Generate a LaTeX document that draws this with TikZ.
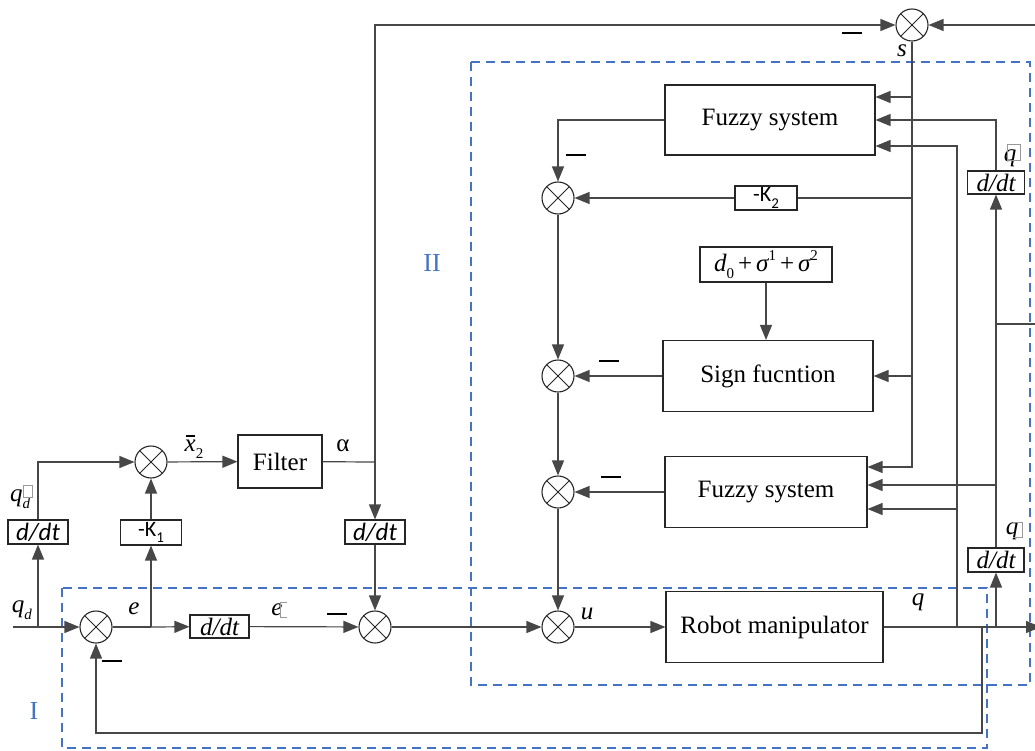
\documentclass[tikz,border=0pt]{standalone}
\usepackage{fontspec}
\setmainfont{Liberation Serif}
\newfontfamily\calib{Carlito}
\usetikzlibrary{arrows.meta}
\definecolor{zoneblue}{HTML}{4472C4}
\newcommand\lo[1]{\raisebox{-0.28em}{\fontsize{15}{15}\selectfont #1}}
\newcommand\hi[1]{\raisebox{0.42em}{\fontsize{15}{15}\selectfont #1}}
\newcommand\minusbar{\rule{20pt}{2.6pt}}
\begin{document}
\begin{tikzpicture}[x=1pt,y=-1pt,
  every node/.style={font=\fontsize{25}{30}\selectfont},
  ln/.style={line width=1.2pt,draw=black!72},
  arr/.style={ln,-{Triangle[length=15pt,width=12pt]}},
  blk/.style={draw=black!85,line width=1.1pt,rectangle,inner sep=0pt},
  sumc/.style={circle,draw=black!85,line width=1.1pt,minimum size=32pt,inner sep=0pt,
    path picture={\draw[black!85,line width=0.9pt] (path picture bounding box.center)
      +(45:16) -- +(225:16) +(135:16) -- +(315:16);}},
  zone/.style={draw=zoneblue,line width=2pt,dash pattern=on 9pt off 6pt},
  zlabel/.style={text=zoneblue,font=\fontsize{26}{30}\selectfont},
  gbox/.style={draw=black!40,line width=0.6pt},
  sig/.style={inner sep=0pt},
  sansdd/.style={font=\fontsize{25}{30}\selectfont\calib\itshape},
  serifdd/.style={font=\fontsize{25}{30}\selectfont\itshape}]
\useasboundingbox (0,0) rectangle (1035,751);

% dashed subsystem frames
\draw[zone] (62,588) rectangle (987,748);
\draw[zone] (471,62) rectangle (1030,685);
\node[zlabel] (lab1) at (34,711) {I};
\node[zlabel] (lab2) at (432,263) {II};

% blocks
\node[blk,minimum width=210pt,minimum height=70pt] (fz1) at (770,120) {Fuzzy system};
\node[blk,minimum width=62pt,minimum height=24pt,font=\fontsize{22}{26}\selectfont\calib] (K2) at (766,198) {-K\lo{2}};
\node[blk,minimum width=132pt,minimum height=35pt] (d0) at (766,264.5)
  {\itshape d\lo{\upshape 0}\hspace{4pt}\upshape+\hspace{4pt}\itshape σ\hi{\upshape 1}\hspace{4pt}\upshape+\hspace{4pt}\itshape σ\hi{\upshape 2}};
\node[blk,minimum width=210pt,minimum height=71pt] (sgn) at (768,376) {Sign fucntion};
\node[blk,minimum width=202pt,minimum height=71pt] (fz2) at (766,492) {Fuzzy system};
\node[blk,minimum width=217pt,minimum height=71pt] (robot) at (774.5,627) {Robot manipulator};
\node[blk,minimum width=84pt,minimum height=53pt] (filter) at (280,461.5) {Filter};
\node[blk,minimum width=60pt,minimum height=24pt,sansdd] (ddtA) at (38,532) {d/dt};
\node[blk,minimum width=61pt,minimum height=25pt,font=\fontsize{22}{26}\selectfont\calib] (K1) at (151,532.5) {-K\lo{1}};
\node[blk,minimum width=60pt,minimum height=24pt,sansdd] (ddtB) at (375,532) {d/dt};
\node[blk,minimum width=59pt,minimum height=23pt,serifdd] (ddtC) at (219.5,626.5) {d/dt};
\node[blk,minimum width=57pt,minimum height=23pt,serifdd] (ddtD) at (996,182.5) {d/dt};
\node[blk,minimum width=56pt,minimum height=24pt,serifdd] (ddtE) at (996,560) {d/dt};

% summing junctions
\node[sumc] (sTop) at (912,25) {};
\node[sumc] (c1) at (558,198) {};
\node[sumc] (c2) at (558,376) {};
\node[sumc] (c3) at (558,492) {};
\node[sumc] (c4) at (558,627) {};
\node[sumc] (cA) at (151,462) {};
\node[sumc] (cE) at (96,627) {};
\node[sumc] (cM) at (375,627) {};

% branch points
\coordinate (qin) at (13,627);
\coordinate (jqd) at (38,627);
\coordinate (je) at (151,627);
\coordinate (ja) at (375,462);
\coordinate (jq1) at (957,627);
\coordinate (jq2) at (982,627);
\coordinate (jq3) at (996,627);
\coordinate (qend) at (1041,627);
\coordinate (fbl) at (96,733);
\coordinate (redge) at (1035,25);
\coordinate (s1) at (912,97);
\coordinate (s2) at (912,198);
\coordinate (s3) at (912,376);
\coordinate (s4) at (912,467);
\coordinate (v1) at (996,120);
\coordinate (v2) at (996,324);
\coordinate (v2e) at (1035,324);
\coordinate (v3) at (996,485);
\coordinate (w1) at (957,146);
\coordinate (w2) at (957,509);
\coordinate (f1) at (558,120);

% connectors: outer loop
\draw[arr] (qin) -- (cE);
\draw[arr] (jqd) -- (ddtA);
\draw[arr] (ddtA.north) |- (cA);
\draw[ln] (cE) -- (je);
\draw[arr] (je) -- (ddtC);
\draw[arr] (je) -- (K1);
\draw[arr] (K1) -- (cA);
\draw[arr] (cA) -- (filter);
\draw[ln] (filter) -- (ja);
\draw[arr] (ja) -- (ddtB);
\draw[arr] (ja) |- (sTop);
\draw[arr] (ddtB) -- (cM);
\draw[arr] (ddtC) -- (cM);
\draw[arr] (cM) -- (c4);
\draw[arr] (c4) -- (robot);
\draw[arr] (robot) -- (qend);
\draw[arr] (jq2) |- (fbl) -- (cE);

% velocity / acceleration paths
\draw[arr] (jq3) -- (ddtE);
\draw[arr] (ddtE) -- (ddtD);
\draw[arr] (ddtD.north) |- (v1 -| fz1.east);
\draw[ln] (v2) -- (v2e);
\draw[arr] (v3) -- (v3 -| fz2.east);
\draw[arr] (jq1) -- (w1) -- (w1 -| fz1.east);
\draw[arr] (w2) -- (w2 -| fz2.east);

% sliding variable s
\draw[arr] (redge) -- (sTop);
\draw[arr] (sTop) -- (s4) -- (s4 -| fz2.east);
\draw[arr] (s1) -- (s1 -| fz1.east);
\draw[ln] (s2) -- (K2);
\draw[arr] (K2) -- (c1);
\draw[arr] (s3) -- (s3 -| sgn.east);

% control law chain
\draw[arr] (f1 -| fz1.west) -- (f1) -- (c1);
\draw[arr] (c1) -- (c2);
\draw[arr] (c2) -- (c3);
\draw[arr] (c3) -- (c4);
\draw[arr] (sgn) -- (c2);
\draw[arr] (fz2) -- (c3);
\draw[arr] (d0) -- (d0 |- sgn.north);

% minus signs
\node[sig] (m1) at (852,33) {\minusbar};
\node[sig] (m2) at (576,155) {\minusbar};
\node[sig] (m3) at (609,361) {\minusbar};
\node[sig] (m4) at (611,477) {\minusbar};
\node[sig] (m5) at (337,614) {\minusbar};
\node[sig] (m6) at (112,661) {\minusbar};

% signal labels
\node (ls) at (902,51) {\itshape s};
\node (lqd) at (22,610) {\itshape q\lo{d}};
\node (lqdd) at (20,499) {\itshape q\lo{d}};
\draw[gbox] (23,485) rectangle (32,497);
\node (le) at (134,609) {\itshape e};
\node (led) at (277,610) {\itshape e};
\draw[gbox] (287,602) -- (280,602) -- (280,617) -- (287,617);
\node (lx) at (194,447) {\rlap{\hspace{1.5pt}\rule[15pt]{9pt}{1.1pt}}\itshape x\lo{\upshape 2}};
\node (lal) at (343,446) {α};
\node (lu) at (587,614) {\itshape u};
\node (lq) at (918,602) {\itshape q};
\node (lqa) at (1010,158) {\itshape q};
\draw[gbox] (1007,144) rectangle (1020,160);
\node (lqv) at (1012,531) {\itshape q};
\draw[gbox] (1013,522) -- (1022,522) -- (1022,537) -- (1013,537);
\end{tikzpicture}
\end{document}
